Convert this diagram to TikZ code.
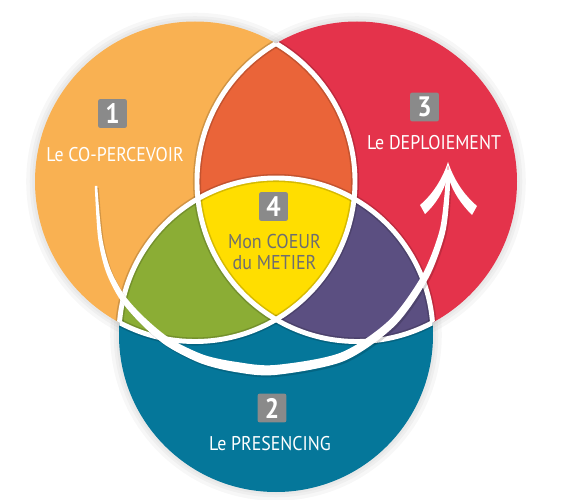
\documentclass[tikz,border=0pt]{standalone}
\usepackage{fontspec}
\setmainfont{PT Sans}[FakeStretch=0.9]
\definecolor{coperc}{HTML}{F9B152}
\definecolor{deploi}{HTML}{E4334B}
\definecolor{presenc}{HTML}{05779A}
\definecolor{lrcol}{HTML}{EA6439}
\definecolor{lbcol}{HTML}{8BAD35}
\definecolor{rbcol}{HTML}{5B4F81}
\definecolor{coeur}{HTML}{FFDE00}
\definecolor{boxgrey}{HTML}{8A8A8A}
\definecolor{txtgrey}{HTML}{6E6E70}
\tikzset{
  halo/.style={draw=black, opacity=0.03, line width=#1},
  rimshade/.style={draw=black, opacity=0.16, line width=4.6pt},
  rim/.style={draw=white, line width=2.8pt},
  numbox/.style={fill=boxgrey, text=white, rounded corners=1.2pt, inner sep=0pt,
    minimum size=16.4pt, font=\fontsize{16}{16}\selectfont\bfseries},
  lab/.style={text=white, inner sep=0pt, font=\fontsize{11.3}{13}\selectfont},
  coeurlab/.style={text=txtgrey, inner sep=0pt, align=center, font=\fontsize{11.4}{12.5}\selectfont}
}
\begin{document}
\begin{tikzpicture}[x=0.02cm, y=-0.02cm]
\useasboundingbox (0,0) rectangle (562,500);
% centres of the three circles
\coordinate (cL) at (195,181.5);
\coordinate (cR) at (357,181.5);
\coordinate (cB) at (276,335);
% soft outer shadow
\foreach \c/\r in {cL/160,cR/160,cB/157} {
  \draw[halo=10pt] (\c) circle (\r);
  \draw[halo=6pt] (\c) circle (\r);
  \draw[halo=3pt] (\c) circle (\r);
}
% discs
\fill[coperc] (cL) circle (160);
\fill[deploi] (cR) circle (160);
\fill[presenc] (cB) circle (157);
% overlaps
\begin{scope}
\clip (cL) circle (160);
\fill[lrcol] (cR) circle (160);
\fill[lbcol] (cB) circle (157);
\end{scope}
\begin{scope}
\clip (cR) circle (160);
\fill[rbcol] (cB) circle (157);
\clip (cL) circle (160);
\fill[coeur] (cB) circle (157);
\end{scope}
% white rims, only where they run over another disc
\begin{scope}
\clip (cR) circle (160) (cB) circle (157);
\draw[rimshade] (cL) circle (160);
\end{scope}
\begin{scope}
\clip (cL) circle (160) (cB) circle (157);
\draw[rimshade] (cR) circle (160);
\end{scope}
\begin{scope}
\clip (cL) circle (160) (cR) circle (160);
\draw[rimshade] (cB) circle (157);
\end{scope}
\begin{scope}
\clip (cR) circle (160) (cB) circle (157);
\draw[rim] (cL) circle (160);
\end{scope}
\begin{scope}
\clip (cL) circle (160) (cB) circle (157);
\draw[rim] (cR) circle (160);
\end{scope}
\begin{scope}
\clip (cL) circle (160) (cR) circle (160);
\draw[rim] (cB) circle (157);
\end{scope}
% the curved arrow
\begin{scope}[shift={(1.5,2)}]
\fill[black, opacity=0.15] plot[smooth] coordinates {(94.75,186) (98,237.4) (105.7,271) (119.5,298.7) (139.55,322.5) (165.8,345.4) (200.4,363.2) (235.2,372) (275,375) (343.6,361.2) (394.7,325.9) (428.1,278.6) (444.9,233.7) (449.5,195.1) (450,170)}
  -- plot[smooth] coordinates {(446,170) (444.5,194.9) (439.1,232.3) (421.9,275.4) (389.3,320.1) (340.4,352.8) (275,365) (236.85,362) (203.6,354.8) (170.2,338.6) (144.45,317.5) (124.5,295.3) (110.3,269) (101.96,236.6) (97.25,186)} -- cycle;
\end{scope}
\fill[white] plot[smooth] coordinates {(94.75,186) (98,237.4) (105.7,271) (119.5,298.7) (139.55,322.5) (165.8,345.4) (200.4,363.2) (235.2,372) (275,375) (343.6,361.2) (394.7,325.9) (428.1,278.6) (444.9,233.7) (449.5,195.1) (450,170)}
  -- plot[smooth] coordinates {(446,170) (444.5,194.9) (439.1,232.3) (421.9,275.4) (389.3,320.1) (340.4,352.8) (275,365) (236.85,362) (203.6,354.8) (170.2,338.6) (144.45,317.5) (124.5,295.3) (110.3,269) (101.96,236.6) (97.25,186)} -- cycle;
% arrow head
\coordinate (tip) at (448,162);
\fill[white] (tip) .. controls (442,180) and (432,195) .. (420,205) -- (425,214)
  .. controls (436,204) and (443,192) .. (447,179) -- cycle;
\fill[white] (tip) .. controls (454,180) and (464,195) .. (477,206) -- (472,215)
  .. controls (461,204) and (453,192) .. (449,179) -- cycle;
% labels
\node[numbox] (n1) at (112.5,113.5) {1};
\node[lab] (t1) at (115,155) {Le CO-PERCEVOIR};
\node[numbox] (n3) at (424.5,107) {3};
\node[lab] (t3) at (434,143) {Le DEPLOIEMENT};
\node[numbox] (n2) at (272,408) {2};
\node[lab] (t2) at (270,443.5) {Le PRESENCING};
\node[numbox] (n4) at (273.5,206.5) {4};
\node[coeurlab] (t4) at (274.5,252) {Mon COEUR\\du METIER};
\end{tikzpicture}
\end{document}
